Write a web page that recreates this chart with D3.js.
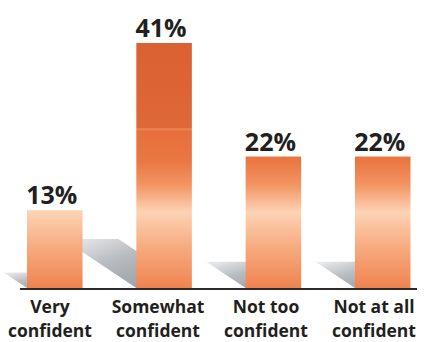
<!DOCTYPE html>
<html>
<head>
<meta charset="utf-8">
<script src="https://cdn.jsdelivr.net/npm/d3@7"></script>
<style>
	body { margin: 0; background: #fff; }
	svg { display: block; }
	text { font-family: "Open Sans", sans-serif; font-weight: 700; fill: #231f20; }
</style>
</head>
<body>
<svg id="chart" width="427" height="342"></svg>
<script>
// data
const categories = ["Very confident", "Somewhat confident", "Not too confident", "Not at all confident"];
const labelLines = [["Very", "confident"], ["Somewhat", "confident"], ["Not too", "confident"], ["Not at all", "confident"]];
const values = [13, 41, 22, 22];

function whenDocumentLoaded(action) {
	if (document.readyState === "loading") {
		document.addEventListener("DOMContentLoaded", action);
	} else {
		action();
	}
}

whenDocumentLoaded(() => {
	const svg = d3.select("#chart");
	const base = 288;

	const x = d3.scaleBand()
		.domain(categories)
		.range([27, 410.5])
		.paddingInner(0.492)
		.paddingOuter(0);

	// the category labels sit a little left of the bars
	const xLabel = d3.scalePoint()
		.domain(categories)
		.range([50, 374]);

	const y = d3.scaleLinear()
		.domain([0, d3.max(values)])
		.range([base, 43]);

	const defs = svg.append("defs");

	// one orange gradient shared by all bars, in page space
	const grad = defs.append("linearGradient")
		.attr("id", "barGrad")
		.attr("gradientUnits", "userSpaceOnUse")
		.attr("x1", 0).attr("x2", 0)
		.attr("y1", y(d3.max(values))).attr("y2", y(0));
	[
		[0, "#da6131"], [0.345, "#df6838"], [0.35, "#ee8450"], [0.362, "#e6703d"],
		[0.48, "#ea7642"], [0.58, "#f29563"], [0.69, "#fcd3b4"], [0.82, "#f8ae84"], [1, "#ef8350"]
	].forEach(s => grad.append("stop").attr("offset", s[0]).attr("stop-color", s[1]));

	const shade = defs.append("linearGradient")
		.attr("id", "shadowGrad")
		.attr("x1", 1).attr("x2", 0).attr("y1", 1).attr("y2", 0);
	shade.append("stop").attr("offset", 0).attr("stop-color", "#8e9298");
	shade.append("stop").attr("offset", 0.6).attr("stop-color", "#b9bcc1");
	shade.append("stop").attr("offset", 1).attr("stop-color", "#eeeff1");

	// cast shadows behind each bar, leaning up and to the left
	svg.selectAll("path.shadow")
		.data(values)
		.enter()
		.append("path")
		.attr("class", "shadow")
		.attr("fill", "url(#shadowGrad)")
		.attr("d", (d, i) => {
			const x0 = x(categories[i]), x1 = x0 + x.bandwidth();
			const h = (base - y(d)) * 0.2, dx = h * 1.5;
			return `M${x0},${base}L${x0 - dx},${base - h}L${x1 - dx},${base - h}L${x1},${base}Z`;
		});

	svg.selectAll("rect.bar")
		.data(values)
		.enter()
		.append("rect")
		.attr("class", "bar")
		.attr("x", (d, i) => x(categories[i]))
		.attr("y", d => y(d))
		.attr("width", x.bandwidth())
		.attr("height", d => base - y(d))
		.style("fill", "url(#barGrad)");

	svg.append("line")
		.attr("x1", 20).attr("x2", 417)
		.attr("y1", base + 1).attr("y2", base + 1)
		.style("stroke", "#2b2b2b")
		.style("stroke-width", 2);

	svg.selectAll("text.value")
		.data(values)
		.enter()
		.append("text")
		.attr("class", "value")
		.attr("x", (d, i) => x(categories[i]) + x.bandwidth() / 2 - 3)
		.attr("y", d => y(d) - 6)
		.attr("text-anchor", "middle")
		.style("font-size", "25px")
		.text(d => d + "%");

	const labels = svg.selectAll("text.cat")
		.data(categories)
		.enter()
		.append("text")
		.attr("class", "cat")
		.attr("text-anchor", "middle")
		.style("font-size", "17.5px");
	labels.selectAll("tspan")
		.data((d, i) => labelLines[i].map(t => ({ t: t, c: d })))
		.enter()
		.append("tspan")
		.attr("x", d => xLabel(d.c))
		.attr("y", (d, j) => 313 + j * 24)
		.text(d => d.t);
});
</script>
</body>
</html>
